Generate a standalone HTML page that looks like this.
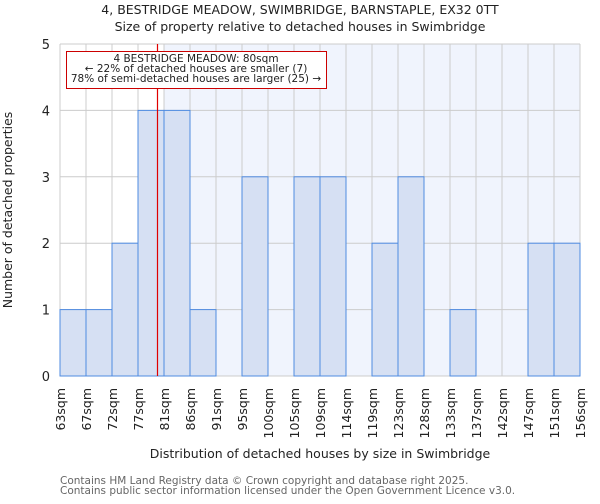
<!DOCTYPE html>
<html><head><meta charset="utf-8"><style>
body{margin:0;background:#fff;font-family:"DejaVu Sans","Liberation Sans",sans-serif;}
svg text{font-family:"DejaVu Sans","Liberation Sans",sans-serif;}
</style></head><body>
<svg id="chart" width="600" height="500" xmlns="http://www.w3.org/2000/svg">
<text x="300" y="14" text-anchor="middle" font-size="12.5" fill="#222">4, BESTRIDGE MEADOW, SWIMBRIDGE, BARNSTAPLE, EX32 0TT</text>
<text x="300" y="31" text-anchor="middle" font-size="12.5" fill="#222">Size of property relative to detached houses in Swimbridge</text>
<g id="plot"></g>
<text x="320" y="458" text-anchor="middle" font-size="12.5" fill="#222">Distribution of detached houses by size in Swimbridge</text>
<text transform="translate(12,210) rotate(-90)" text-anchor="middle" font-size="12.5" fill="#222">Number of detached properties</text>
<text x="60" y="484" font-size="10.5" fill="#666">Contains HM Land Registry data © Crown copyright and database right 2025.</text>
<text x="60" y="494" font-size="10.5" fill="#666">Contains public sector information licensed under the Open Government Licence v3.0.</text>
</svg>
<script>
const binLabels=["63sqm","67sqm","72sqm","77sqm","81sqm","86sqm","91sqm","95sqm","100sqm","105sqm","109sqm","114sqm","119sqm","123sqm","128sqm","133sqm","137sqm","142sqm","147sqm","151sqm","156sqm"];
const binEdges=[63,67,72,77,81,86,91,95,100,105,109,114,119,123,128,133,137,142,147,151,156];
const counts=[1,1,2,4,4,1,0,3,0,3,3,0,2,3,0,1,0,0,2,2];
const yTicks=[0,1,2,3,4,5];
const subjectSize=80;
const NS="http://www.w3.org/2000/svg";
const g=document.getElementById('plot');
const X0=60,X1=580,Y0=376,Y1=44;
const bw=(X1-X0)/counts.length;
const xi=i=>X0+i*bw;
const y=v=>Y0-(v/5)*(Y0-Y1);
function xv(v){for(let i=0;i<binEdges.length-1;i++){if(v>=binEdges[i]&&v<=binEdges[i+1])return xi(i)+bw*(v-binEdges[i])/(binEdges[i+1]-binEdges[i]);}return X0;}
function mk(t,a){const e=document.createElementNS(NS,t);for(const k in a)e.setAttribute(k,a[k]);g.appendChild(e);return e;}
let subjBin=0;for(let i=0;i<counts.length;i++){if(subjectSize>=binEdges[i])subjBin=i+1;}
const bgL=mk('rect',{x:X0,y:Y1,width:xi(subjBin)-X0,height:Y0-Y1,fill:'#ffffff'});


const bgR=mk('rect',{x:xi(subjBin),y:Y1,width:X1-xi(subjBin),height:Y0-Y1,fill:'#f0f4fd'});


for(let i=0;i<=counts.length;i++){const l=mk('line',{x1:xi(i),x2:xi(i),y1:Y1,y2:Y0,stroke:'#cccccc','stroke-width':1});

}
yTicks.forEach(t=>{const l=mk('line',{x1:X0,x2:X1,y1:y(t),y2:y(t),stroke:'#cccccc','stroke-width':1});


const tx=mk('text',{x:X0-10,y:y(t)+5,'text-anchor':'end','font-size':13,fill:'#222'});tx.textContent=t;

});
counts.forEach((c,i)=>{if(c>0){const r=mk('rect',{x:xi(i),y:y(c),width:bw,height:Y0-y(c),fill:'#d6e0f3',stroke:'#4f8be0','stroke-width':1});

}});
binLabels.forEach((lb,i)=>{const tx=mk('text',{transform:`translate(${xi(i)+5},388) rotate(-90)`,'text-anchor':'end','font-size':12.5,fill:'#222'});tx.textContent=lb;

});
const rl=mk('line',{x1:xv(subjectSize),x2:xv(subjectSize),y1:Y1,y2:Y0,stroke:'#e00000','stroke-width':1.2});


const box=mk('rect',{x:66.5,y:51.5,width:260,height:37,fill:'#fff',stroke:'#cc0000','stroke-width':1});


["4 BESTRIDGE MEADOW: 80sqm","← 22% of detached houses are smaller (7)","78% of semi-detached houses are larger (25) →"].forEach((s,k)=>{const tx=mk('text',{x:196,y:62+k*10,'text-anchor':'middle','font-size':10.5,fill:'#222'});tx.textContent=s;

});
</script>
</body></html>
